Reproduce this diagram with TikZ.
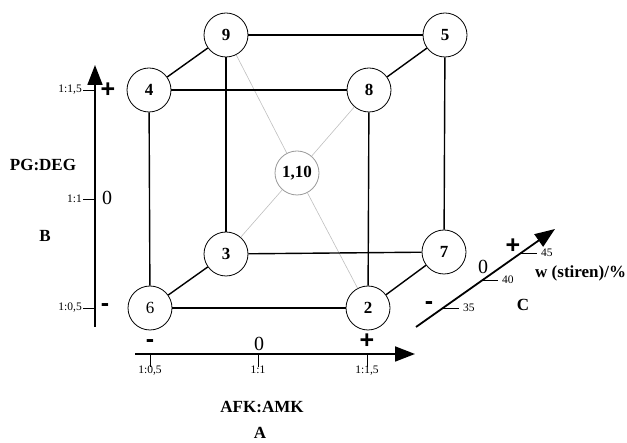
\documentclass[tikz,border=0pt]{standalone}
\usepackage{fontspec}
\setmainfont{Liberation Serif}
\newfontfamily\signfont{Liberation Sans}
\usetikzlibrary{arrows.meta}
\begin{document}
\begin{tikzpicture}[x=1pt,y=-1pt,
  pt/.style={circle,draw=black,line width=0.8pt,minimum size=44pt,inner sep=0pt,fill=white,font=\fontsize{17}{17}\selectfont\bfseries},
  ptc/.style={pt,draw=gray!80},
  edge/.style={line width=1.4pt},
  diag/.style={line width=0.6pt,draw=gray!50},
  axis/.style={line width=1.8pt,-{Triangle[length=20pt,width=15pt]}},
  tick/.style={line width=0.8pt},
  ticklab/.style={font=\fontsize{11.5}{12}\selectfont,inner sep=1pt},
  sgn/.style={font=\signfont\fontsize{25}{25}\selectfont\bfseries,inner sep=0pt},
  zero/.style={font=\fontsize{20}{20}\selectfont,inner sep=0pt},
  ttl/.style={font=\fontsize{17}{17}\selectfont\bfseries,inner sep=0pt}]
\useasboundingbox (0,0) rectangle (627,443);
% nodes
\node[pt] (n9) at (226,35) {9};
\node[pt] (n5) at (445,35) {5};
\node[pt] (n4) at (149,90) {4};
\node[pt] (n8) at (369,90) {8};
\node[ptc] (n1) at (297,173) {1,10};
\node[pt] (n3) at (226,254) {3};
\node[pt] (n7) at (444,252) {7};
\node[pt,font=\fontsize{17}{17}\selectfont] (n6) at (150,308) {6};
\node[pt] (n2) at (368,308) {2};
% diagonals
\draw[diag] (n9) -- (n1);
\draw[diag] (n1) -- (n2);
\draw[diag] (n8) -- (n1);
\draw[diag] (n1) -- (n3);
% edges
\draw[edge] (n9) -- (n5);
\draw[edge] (n9) -- (n4);
\draw[edge] (n9) -- (n3);
\draw[edge] (n5) -- (n8);
\draw[edge] (n5) -- (n7);
\draw[edge] (n4) -- (n8);
\draw[edge] (n4) -- (n6);
\draw[edge] (n8) -- (n2);
\draw[edge] (n3) -- (n7);
\draw[edge] (n3) -- (n6);
\draw[edge] (n6) -- (n2);
\draw[edge] (n2) -- (n7);
% B axis
\coordinate (bS) at (95,327);
\coordinate (bE) at (95,65);
\draw[axis] (bS) -- (bE);
\coordinate (bt1) at (83,90); \coordinate (bt1e) at (95,90);
\coordinate (bt2) at (83,199); \coordinate (bt2e) at (95,199);
\coordinate (bt3) at (83,308); \coordinate (bt3e) at (95,308);
\draw[tick] (bt1) -- (bt1e);
\draw[tick] (bt2) -- (bt2e);
\draw[tick] (bt3) -- (bt3e);
\node[ticklab,anchor=east] (bl1) at (bt1) {1:1,5};
\node[ticklab,anchor=east] (bl2) at (bt2) {1:1};
\node[ticklab,anchor=east] (bl3) at (bt3) {1:0,5};
\node[sgn] (bp) at (108,90) {+};
\node[zero] (b0) at (107,198) {0};
\node[sgn] (bm) at (105,308) {-};
\node[ttl] (bt) at (43,165) {PG:DEG};
\node[ttl] (bb) at (45,236) {B};
% A axis
\coordinate (aS) at (135,354);
\coordinate (aE) at (415,354);
\draw[axis] (aS) -- (aE);
\coordinate (at1) at (150,354); \coordinate (at1e) at (150,367);
\coordinate (at2) at (258,354); \coordinate (at2e) at (258,367);
\coordinate (at3) at (367,354); \coordinate (at3e) at (367,367);
\draw[tick] (at1) -- (at1e);
\draw[tick] (at2) -- (at2e);
\draw[tick] (at3) -- (at3e);
\node[ticklab,anchor=north] (al1) at ([yshift=2pt]at1e) {1:0,5};
\node[ticklab,anchor=north] (al2) at ([yshift=2pt]at2e) {1:1};
\node[ticklab,anchor=north] (al3) at ([yshift=2pt]at3e) {1:1,5};
\node[sgn] (am) at (150,344) {-};
\node[zero] (a0) at (259,344) {0};
\node[sgn] (ap) at (367,341) {+};
\node[ttl] (at) at (262,407) {AFK:AMK};
\node[ttl] (aa) at (260,433) {A};
% C axis
\coordinate (cS) at (416,327);
\coordinate (cE) at (555,229);
\draw[axis] (cS) -- (cE);
\coordinate (ct1) at (521,253); \coordinate (ct1e) at (537,253);
\coordinate (ct2) at (482,280); \coordinate (ct2e) at (498,280);
\coordinate (ct3) at (443,308); \coordinate (ct3e) at (459,308);
\draw[tick] (ct1) -- (ct1e);
\draw[tick] (ct2) -- (ct2e);
\draw[tick] (ct3) -- (ct3e);
\node[ticklab,anchor=west] (cl1) at ([xshift=3pt]ct1e) {45};
\node[ticklab,anchor=west] (cl2) at ([xshift=3pt]ct2e) {40};
\node[ticklab,anchor=west] (cl3) at ([xshift=3pt]ct3e) {35};
\node[sgn] (cp) at (513,246) {+};
\node[zero] (c0) at (483,267) {0};
\node[sgn] (cm) at (429,306) {-};
\node[ttl,anchor=west] (ct) at (535,273) {w (stiren)/\%};
\node[ttl] (cc) at (523,305) {C};
\end{tikzpicture}
\end{document}
